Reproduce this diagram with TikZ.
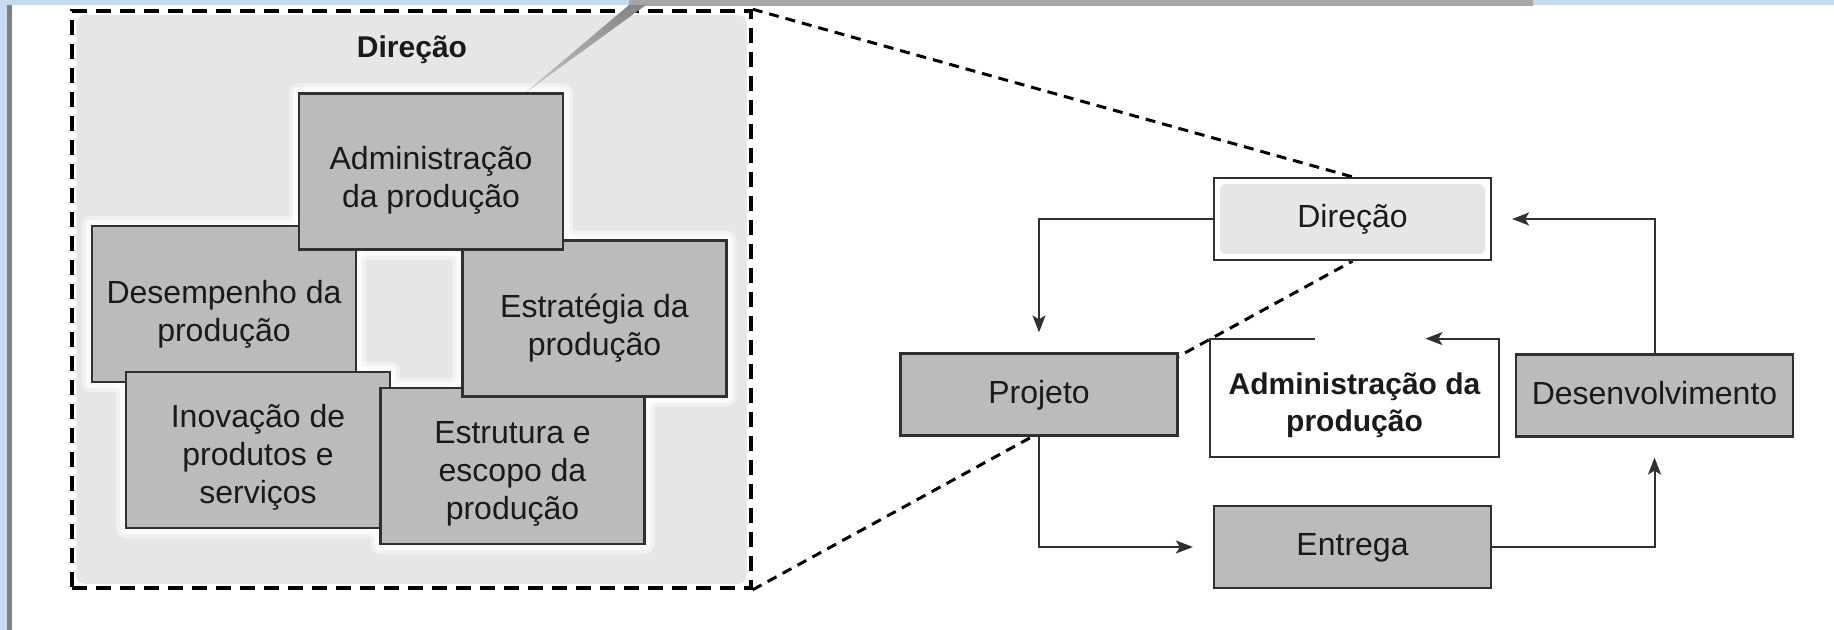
\documentclass[tikz,border=0pt]{standalone}
\usepackage{fontspec}
\setmainfont{Liberation Sans}
\usetikzlibrary{arrows.meta,backgrounds}
\definecolor{stripblue}{HTML}{C6D9F0}
\definecolor{bargray}{HTML}{A6A6A6}
\definecolor{panelgray}{HTML}{E6E6E6}
\definecolor{boxgray}{HTML}{BBBBBB}
\definecolor{edgegray}{HTML}{303030}
\definecolor{txt}{HTML}{1A1A1A}
\newcommand{\txtdrop}[1]{\rule{0pt}{#1}}

\tikzset{
  blk/.style={draw=edgegray, line width=1.1pt, fill=boxgray, align=center,
    minimum width=132pt, minimum height=78pt, inner sep=0pt, text=txt,
    font=\fontsize{16}{19}\selectfont, text depth=0pt},
  flow/.style={draw=edgegray, line width=1.1pt, fill=boxgray, inner sep=0pt, text=txt,
    minimum width=138.5pt, minimum height=41pt, text height=11pt, text depth=2.5pt,
    font=\fontsize{16}{19}\selectfont},
  conn/.style={draw=edgegray, line width=1pt, -{Stealth[length=8.5pt,width=6.5pt,inset=2pt]}},
  lensline/.style={line width=1.5pt, dash pattern=on 5pt off 3.5pt},
}

\begin{document}
\begin{tikzpicture}[x=0.5pt,y=-0.5pt]
\useasboundingbox (0,0) rectangle (1834,630);
% frame of the slide
\fill[stripblue] (0,0) rectangle (1834,5);
\fill[stripblue] (0,0) rectangle (7,630);
\fill[gray] (7,5) rectangle (12,630);

% left panel
\node[draw, line width=1.75pt, dash pattern=on 7.5pt off 4.5pt, inner sep=0pt,
  minimum width=339.5pt, minimum height=288.5pt] (lens) at (411.5,299.5) {};
\node[text=txt, font=\fontsize{15}{18}\bfseries\selectfont] (dtit) at (412,50) {Direção};
\fill[bargray] (629,0) rectangle (1533,6);
\shade[top color=black!48, bottom color=black!22] (525,93) -- (629,5) -- (646,5) -- cycle;

\node[blk] (desemp) at (224,304) {\txtdrop{18.7pt}Desempenho da\\produção};
\node[blk] (inov) at (258,450) {\txtdrop{15.5pt}Inovação de\\produtos e\\serviços};
\node[blk] (estrut) at (512.5,466) {\txtdrop{15pt}Estrutura e\\escopo da\\produção};
\node[blk] (estrat) at (594.5,318.5) {\txtdrop{18pt}Estratégia da\\produção};
\node[blk] (admin) at (431,171.5) {\txtdrop{17.5pt}Administração\\da produção};

% cycle on the right
\node[flow, fill=white, path picture={\fill[panelgray, rounded corners=3pt]
  ([shift={(3pt,-3pt)}]path picture bounding box.north west) rectangle
  ([shift={(-3pt,3pt)}]path picture bounding box.south east);}] (dir) at (1352.5,219) {Direção};
\node[flow] (proj) at (1039,394.5) {Projeto};
\node[flow] (desenv) at (1654.5,395.5) {Desenvolvimento};
\node[flow] (ent) at (1352.5,547) {Entrega};
\node[align=center, inner sep=0pt, minimum width=144.5pt, minimum height=59pt, text=txt,
  font=\fontsize{15}{18.5}\bfseries\selectfont, text depth=0pt]
  (adm) at (1354.5,398) {\txtdrop{14.8pt}Administração da\\produção};

\draw[conn] (dir.west) -| ([yshift=10pt]proj.north);
\draw[conn] (proj.south) |- ([xshift=-10pt]ent.west);
\draw[conn] (ent.east) -| ([yshift=-10pt]desenv.south);
\draw[conn] (desenv.north) |- ([xshift=10pt]dir.east);
\draw[conn] ([xshift=52.5pt]adm.north west) -- (adm.north west) -- (adm.south west)
  -- (adm.south east) -- (adm.north east) -- ++(-74,0);

\begin{scope}[on background layer]
\fill[panelgray, rounded corners=4pt] ([shift={(3pt,-3pt)}]lens.north west) rectangle ([shift={(-3pt,3pt)}]lens.south east);
\foreach \b in {desemp,inov,estrut,estrat,admin}{
  \fill[white, opacity=.45, rounded corners=5pt] ([shift={(-4.5pt,4.5pt)}]\b.north west) rectangle ([shift={(4.5pt,-4.5pt)}]\b.south east);
  \fill[white, opacity=.7, rounded corners=3pt] ([shift={(-2.5pt,2.5pt)}]\b.north west) rectangle ([shift={(2.5pt,-2.5pt)}]\b.south east);
}
\draw[lensline] (lens.north east) -- (dir.north);
\draw[lensline] (lens.south east) -- (dir.south);
\end{scope}
\end{tikzpicture}
\end{document}
